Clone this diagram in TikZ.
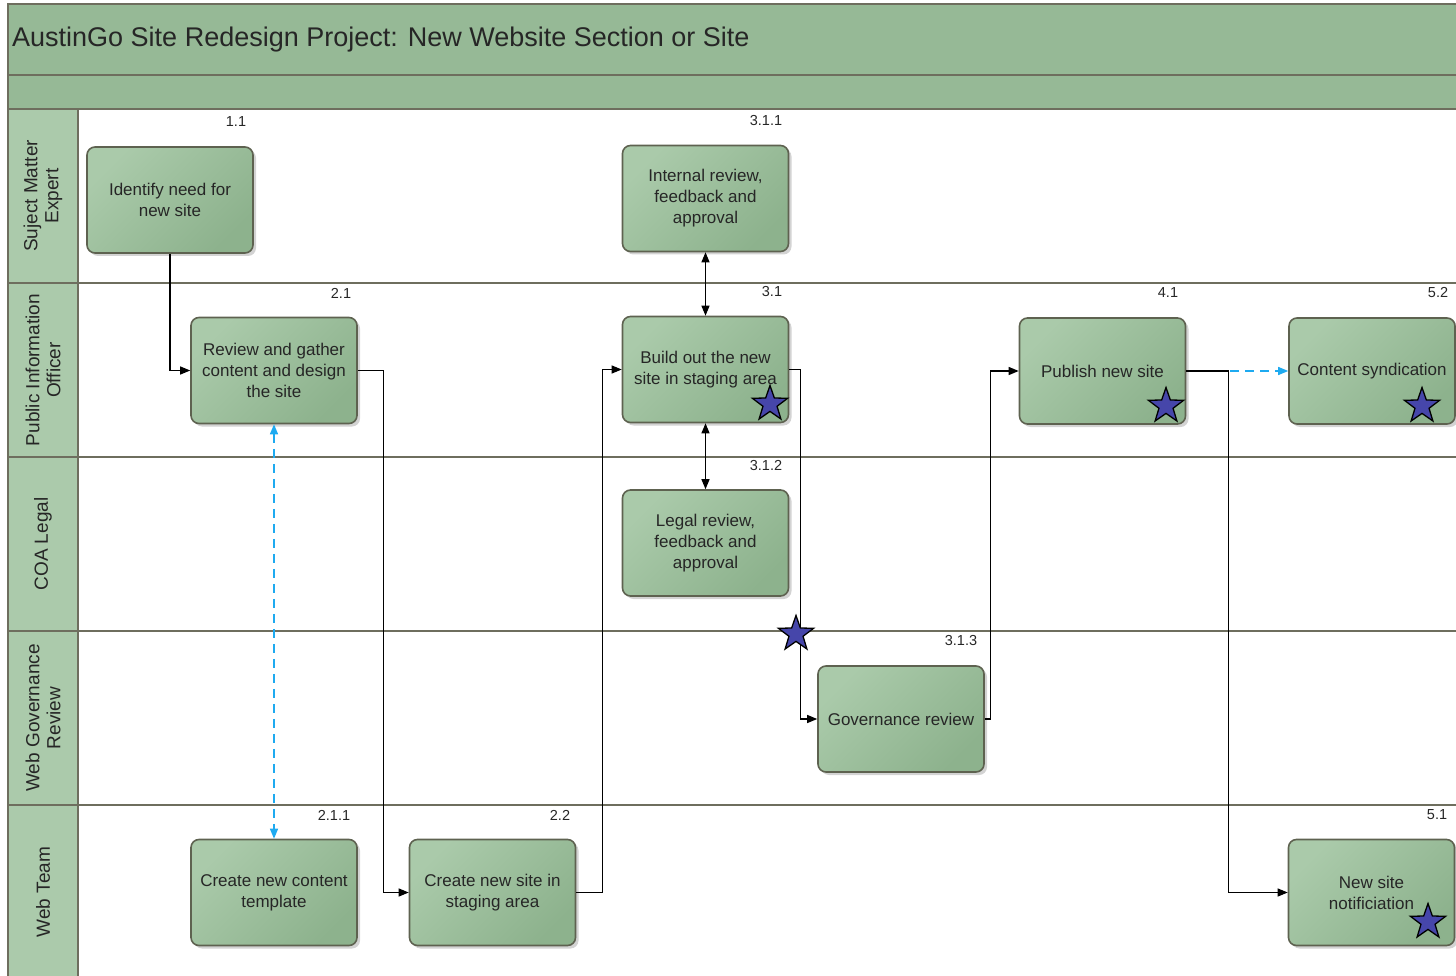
\documentclass[tikz,border=0pt]{standalone}
\usepackage{fontspec}
\setmainfont{Liberation Sans}
\usetikzlibrary{arrows.meta,shapes.geometric,shadows}
\definecolor{band}{HTML}{96B996}
\definecolor{lanefill}{HTML}{ABCAAB}
\definecolor{frameline}{HTML}{6E6E5E}
\definecolor{boxA}{HTML}{AACAAA}
\definecolor{boxB}{HTML}{8DB28D}
\definecolor{boxline}{HTML}{5E6250}
\definecolor{txt}{HTML}{262626}
\definecolor{starblue}{HTML}{4646AA}
\definecolor{dashblue}{HTML}{1EAAF0}
\begin{document}
\begin{tikzpicture}[x=1pt,y=-1pt,
  box/.style={rectangle, rounded corners=8pt, draw=boxline, line width=1.6pt,
    top color=boxA, bottom color=boxB, shading angle=45,
    drop shadow={shadow xshift=3pt, shadow yshift=-3pt, opacity=0.35, fill=gray},
    minimum width=166pt, minimum height=106pt, inner sep=0pt, align=center,
    text=txt, font=\fontsize{17}{21}\selectfont},
  num/.style={text=txt, font=\fontsize{14.5}{16}\selectfont, inner sep=0pt},
  lane/.style={rotate=90, align=center, text=txt, font=\fontsize{19}{21}\selectfont, inner sep=0pt},
  flow/.style={draw=black, line width=1.2pt, -{Triangle[length=10pt,width=8pt]}},
  flowtwo/.style={draw=black, line width=1.2pt, {Triangle[length=10pt,width=8pt]}-{Triangle[length=10pt,width=8pt]}},
  dflow/.style={draw=dashblue, line width=1.5pt, dash pattern=on 9pt off 6pt, -{Triangle[length=10pt,width=8pt]}},
  dflowtwo/.style={draw=dashblue, line width=1.5pt, dash pattern=on 9pt off 6pt, {Triangle[length=10pt,width=8pt]}-{Triangle[length=10pt,width=8pt]}},
  mystar/.style={star, star points=5, star point ratio=2.5, minimum size=37pt, inner sep=0pt, fill=starblue, draw=black, line width=1.3pt}
]
\useasboundingbox (0,0) rectangle (1456,976);
\begin{scope}
\clip (0,0) rectangle (1456,976);
% bands and lanes
\fill[band] (8,4) rectangle (1470,109);
\fill[lanefill] (8,109) rectangle (78,990);
\draw[frameline, line width=1.5pt] (8,990) -- (8,4) -- (1470,4);
\draw[frameline, line width=1.5pt] (8,75) -- (1470,75);
\draw[frameline, line width=1.5pt] (8,109) -- (1470,109);
\draw[frameline, line width=1.2pt] (78,109) -- (78,990);
\foreach \yy in {283,457,631,805} \draw[frameline, line width=1.2pt] (8,\yy) -- (1470,\yy);
\end{scope}

\node[anchor=west, text=txt, font=\fontsize{27}{30}\selectfont, inner sep=0pt] (title) at (12,40) {AustinGo Site Redesign Project: New Website Section or Site};

% lane labels
\node[lane] (l1) at (43,196) {Suject Matter\\Expert};
\node[lane] (l2) at (43,370) {Public Information\\Officer};
\node[lane] (l3) at (43,544) {COA Legal};
\node[lane] (l4) at (43,718) {Web Governance\\Review};
\node[lane] (l5) at (43,892) {Web Team};

% boxes
\node[box] (n11) at (170,200) {Identify need for\\new site};
\node[box] (n21) at (274,370.5) {Review and gather\\content and design\\the site};
\node[box] (n311) at (705.5,198.5) {Internal review,\\feedback and\\approval};
\node[box] (n31) at (705.5,369.5) {Build out the new\\site in staging area};
\node[box] (n312) at (705.5,543) {Legal review,\\feedback and\\approval};
\node[box] (n313) at (901,719) {Governance review};
\node[box] (n41) at (1102.5,371) {Publish new site};
\node[box] (n52) at (1372,371) {Content syndication};
\node[box] (n211) at (274,892.5) {Create new content\\template};
\node[box] (n22) at (492.5,892.5) {Create new site in\\staging area};
\node[box] (n51) at (1371.5,892.5) {New site\\notificiation};

% numbers
\node[num] (t11) at (236,122) {1.1};
\node[num] (t21) at (341,293) {2.1};
\node[num] (t311) at (766,121) {3.1.1};
\node[num] (t31) at (772,292) {3.1};
\node[num] (t312) at (766,466) {3.1.2};
\node[num] (t313) at (961,641) {3.1.3};
\node[num] (t41) at (1168,293) {4.1};
\node[num] (t52) at (1438,293) {5.2};
\node[num] (t211) at (334,815) {2.1.1};
\node[num] (t22) at (560,815) {2.2};
\node[num] (t51) at (1437,815) {5.1};

% connectors
\draw[flow] (n11.south) |- (n21.west);
\draw[flow] (n21.east) -- ++(26,0) |- (n22.west);
\draw[flow] (n22.east) -- ++(26,0) |- (n31.west);
\draw[flowtwo] (n311.south) -- (n31.north);
\draw[flowtwo] (n31.south) -- (n312.north);
\draw[flow] (n31.east) -- ++(11,0) |- (n313.west);
\draw[flow] (n313.east) -- ++(6,0) |- (n41.west);
\draw[flow] (n41.east) -- ++(42,0) coordinate (split) |- (n51.west);
\draw[dflow] ([xshift=2pt]split) -- (n52.west);
\draw[dflowtwo] (n21.south) -- (n211.north);

% stars
\node[mystar] (s31) at (770,404) {};
\node[mystar] (s41) at (1166,406) {};
\node[mystar] (s52) at (1422,406) {};
\node[mystar] (s51) at (1428,922) {};
\node[mystar] (sfree) at (796,634) {};
\end{tikzpicture}
\end{document}
